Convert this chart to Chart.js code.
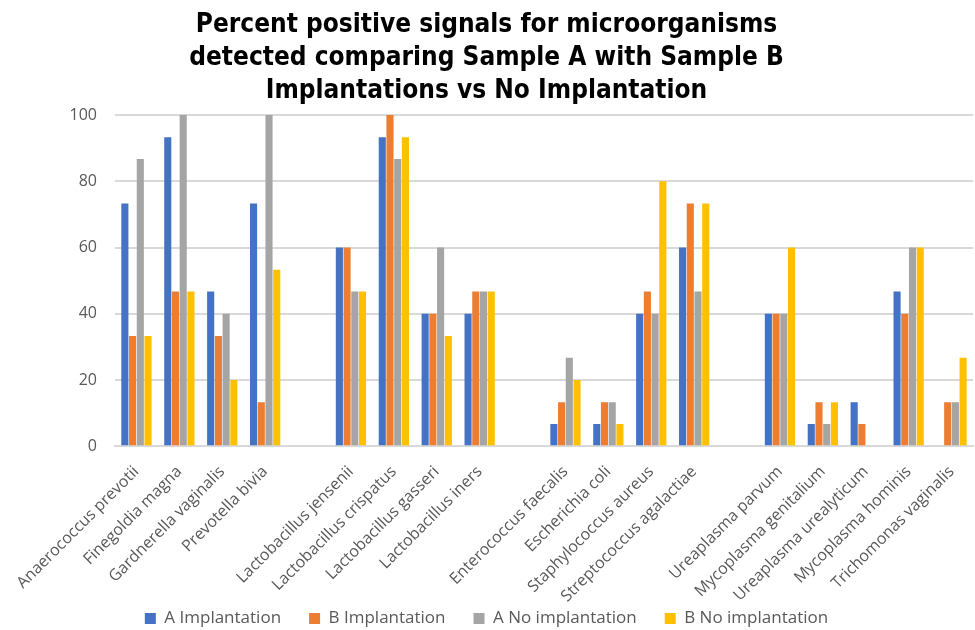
<!DOCTYPE html>
<html>
<head>
<meta charset="utf-8">
<script src="https://cdn.jsdelivr.net/npm/chart.js@4/dist/chart.umd.min.js"></script>
<style>
  html,body{margin:0;padding:0;background:#fff;}
  #wrap{width:975px;height:630px;}
</style>
</head>
<body>
<div id="wrap"><canvas id="chart"></canvas></div>
<script>
// DATA (empty labels are the gaps between groups)
const categories = [
  "Anaerococcus prevotii","Finegoldia magna","Gardnerella vaginalis","Prevotella bivia","",
  "Lactobacillus jensenii","Lactobacillus crispatus","Lactobacillus gasseri","Lactobacillus iners","",
  "Enterococcus faecalis","Escherichia coli","Staphylococcus aureus","Streptococcus agalactiae","",
  "Ureaplasma parvum","Mycoplasma genitalium","Ureaplasma urealyticum","Mycoplasma hominis","Trichomonas vaginalis"
];
const aImplantation   = [73.3,93.3,46.7,73.3,null, 60,93.3,40,40,null, 6.7,6.7,40,60,null, 40,6.7,13.3,46.7,0];
const bImplantation   = [33.3,46.7,33.3,13.3,null, 60,100,40,46.7,null, 13.3,13.3,46.7,73.3,null, 40,13.3,6.7,40,13.3];
const aNoImplantation = [86.7,100,40,100,null, 46.7,86.7,60,46.7,null, 26.7,13.3,40,46.7,null, 40,6.7,0,60,13.3];
const bNoImplantation = [33.3,46.7,20,53.3,null, 46.7,93.3,33.3,46.7,null, 20,6.7,80,73.3,null, 60,13.3,0,60,26.7];
const yTicks = [0,20,40,60,80,100];

const titleLines = [
  "Percent positive signals for microorganisms",
  "detected comparing Sample A with Sample B",
  "Implantations vs No Implantation"
];

const grey = "#595959";

function ds(label, data, color){
  return {label, data, backgroundColor:color, borderWidth:0,
          barPercentage:0.92, categoryPercentage:0.72};
}

// legend takes little room in the layout, then gets drawn near the bottom edge
const legendSpot = {
  id: "legendSpot",
  beforeLayout(chart){
    const lg = chart.legend;
    if (lg && !lg._squeezed){
      const fit = lg.fit;
      lg.fit = function(){ fit.call(this); this.height = 16; };
      lg._squeezed = true;
    }
  },
  afterLayout(chart){
    const lg = chart.legend;
    lg.top = 582;
    lg.bottom = 630;
  }
};

new Chart(document.getElementById("chart"), {
  type: "bar",
  data: {
    labels: categories,
    datasets: [
      ds("A Implantation", aImplantation, "#4472C4"),
      ds("B Implantation", bImplantation, "#ED7D31"),
      ds("A No implantation", aNoImplantation, "#A5A5A5"),
      ds("B No implantation", bNoImplantation, "#FFC000")
    ]
  },
  plugins: [legendSpot],
  options: {
    responsive: true,
    maintainAspectRatio: false,
    animation: false,
    layout: {padding:{left:0,right:2,top:4,bottom:0}},
    plugins: {
      title: {
        display: true,
        text: titleLines,
        color: "#000",
        font: {family:"'DejaVu Sans Condensed','DejaVu Sans',sans-serif", size:26, weight:"bold", lineHeight:1.27},
        padding: {top:5, bottom:7}
      },
      legend: {
        position: "bottom",
        labels: {
          color: grey,
          boxWidth: 11, boxHeight: 11,
          padding: 28,
          font: {family:"'Open Sans',sans-serif", size:17}
        }
      },
      tooltip: {enabled:false}
    },
    scales: {
      x: {
        grid: {display:false},
        border: {display:true, color:"#d9d9d9", width:2},
        ticks: {
          color: grey,
          autoSkip: false,
          padding: 8,
          maxRotation: 45, minRotation: 45,
          font: {family:"'Open Sans',sans-serif", size:16}
        }
      },
      y: {
        min: 0, max: 100,
        afterBuildTicks: s => { s.ticks = yTicks.map(v => ({value:v})); },
        afterFit: s => { s.width = 115; },
        grid: {color:"#d9d9d9", lineWidth:2, drawTicks:false},
        border: {display:false},
        ticks: {
          color: grey,
          padding: 18,
          font: {family:"'Open Sans',sans-serif", size:16}
        }
      }
    }
  }
});
</script>
</body>
</html>
